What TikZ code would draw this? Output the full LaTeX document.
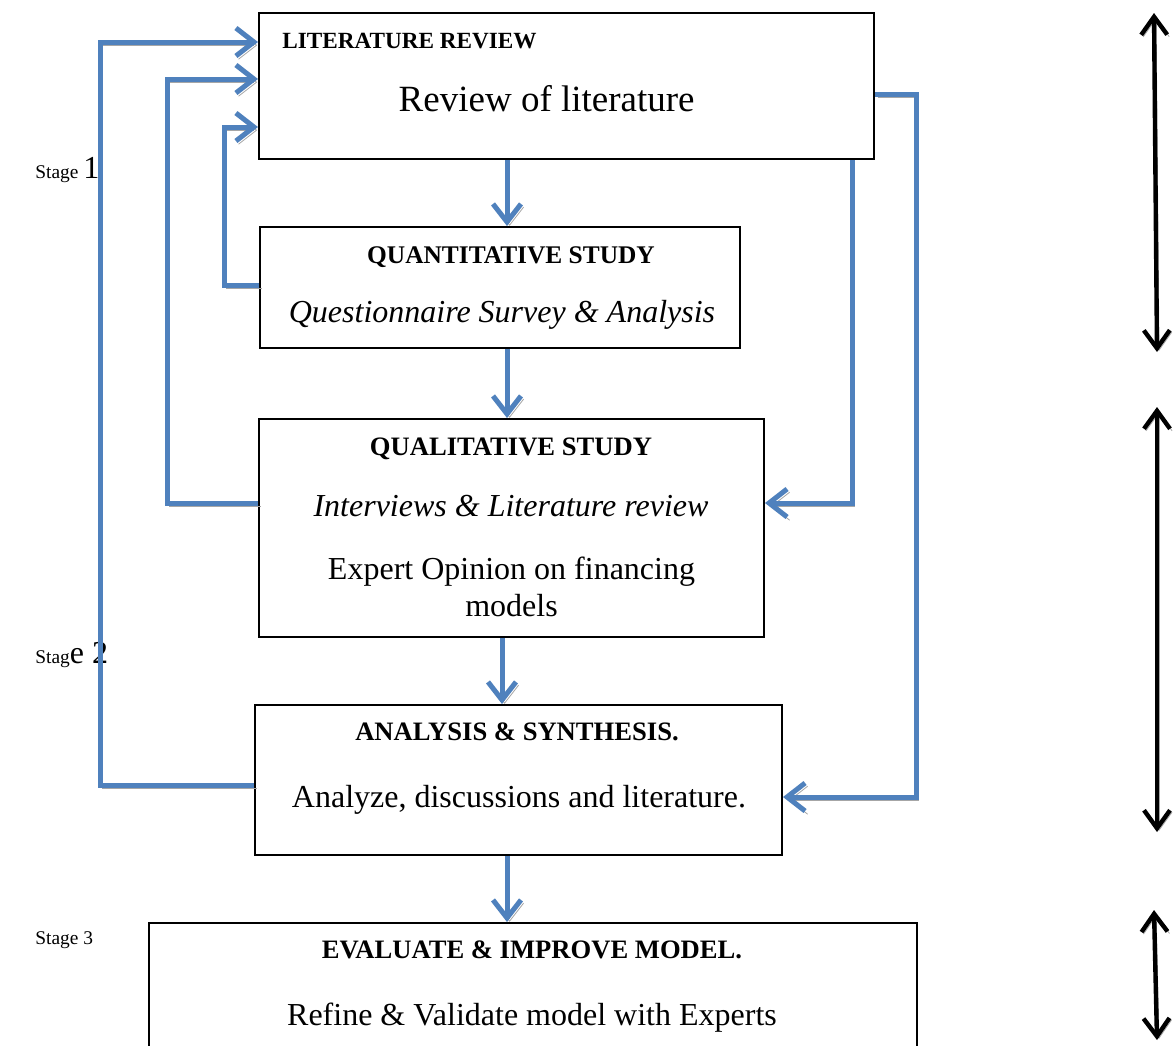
\documentclass[tikz,border=0pt]{standalone}
\usepackage{fontspec}
\setmainfont{Liberation Serif}
\usetikzlibrary{arrows.meta,calc}
\definecolor{flowblue}{HTML}{4F81BD}
\definecolor{shade}{HTML}{A6A6A6}
\tikzset{
  boxnode/.style={draw=black, line width=1pt, inner sep=0pt},
  txt/.style={inner sep=0pt, anchor=base, text=black},
  ttl/.style={txt, font=\fontsize{13.3pt}{16pt}\selectfont\bfseries},
  body/.style={txt, font=\fontsize{16pt}{19pt}\selectfont},
  bodyit/.style={txt, font=\fontsize{16pt}{19pt}\selectfont\itshape},
  flow/.style={draw=flowblue, line width=2.5pt,
    -{Straight Barb[length=9pt,width=14pt]},
    preaction={draw=shade, transform canvas={shift={(1.3pt,-1.6pt)}}}},
  span/.style={draw=black, line width=2.2pt,
    {Straight Barb[length=9pt,width=13pt]}-{Straight Barb[length=9pt,width=13pt]},
    preaction={draw=shade, transform canvas={shift={(1pt,-1pt)}}}},
}
\begin{document}
\begin{tikzpicture}[x=0.5pt, y=-0.5pt]
\clip (0,0) rectangle (1176,1045);
\fill[white] (0,0) rectangle (1176,1045);

% process boxes
\node[boxnode, minimum width=307.5pt, minimum height=73pt]  (b1) at (566.5,86)  {};
\node[boxnode, minimum width=240pt,   minimum height=60.5pt] (b2) at (500,287.5) {};
\node[boxnode, minimum width=252.5pt, minimum height=109pt] (b3) at (511.5,528) {};
\node[boxnode, minimum width=263.5pt, minimum height=75pt]  (b4) at (518.5,780) {};
\node[boxnode, minimum width=384pt,   minimum height=100pt] (b5) at (533,1023)  {};

% box texts
\node[ttl, anchor=base west, font=\fontsize{11.6pt}{14pt}\selectfont\bfseries] (t1) at (282,48) {LITERATURE REVIEW};
\node[body, anchor=base east, font=\fontsize{18.5pt}{22pt}\selectfont] (d1) at (695,111) {Review of literature};
\node[ttl, font=\fontsize{12.7pt}{15pt}\selectfont\bfseries] (t2) at (511,263) {QUANTITATIVE STUDY};
\node[bodyit] (d2) at (502,322) {Questionnaire Survey \& Analysis};
\node[ttl] (t3) at (511,455) {QUALITATIVE STUDY};
\node[bodyit] (d3) at (511,516) {Interviews \& Literature review};
\node[body] (e3) at (511.5,579) {Expert Opinion on financing};
\node[body] (m3) at (511.5,616) {models};
\node[ttl] (t4) at (517,740) {ANALYSIS \& SYNTHESIS.};
\node[body] (d4) at (519,807) {Analyze, discussions and literature.};
\node[ttl] (t5) at (532,958) {EVALUATE \& IMPROVE MODEL.};
\node[body] (d5) at (532,1025) {Refine \& Validate model with Experts};

% stage labels
\node[txt, anchor=base west] (s1) at (35,178)
  {{\fontsize{9.7pt}{12pt}\selectfont Stage }{\fontsize{16pt}{19pt}\selectfont 1}};
\node[txt, anchor=base west] (s2) at (35,663)
  {{\fontsize{9.7pt}{12pt}\selectfont Stag}{\fontsize{16pt}{19pt}\selectfont e 2}};
\node[txt, anchor=base west] (s3) at (35,944)
  {\fontsize{9.7pt}{12pt}\selectfont Stage 3};

% routing points
\coordinate (colA) at (507,0);
\coordinate (colB) at (502,0);
\coordinate (fbA) at (100,42);
\coordinate (fbB) at (167,79);
\coordinate (fbC) at (224,127);
\coordinate (fbD) at (916,94);
\coordinate (fbE) at (852,503);

% main downward flow
\draw[flow] (colA |- b1.south) -- (colA |- b2.north);
\draw[flow] (colA |- b2.south) -- (colA |- b3.north);
\draw[flow] (colB |- b3.south) -- (colB |- b4.north);
\draw[flow] (colA |- b4.south) -- (colA |- b5.north);

% feedback loops on the left
\draw[flow] ($(b4.west)+(0,5)$) -| (fbA) -- (fbA -| b1.west);
\draw[flow] ($(b3.west)+(0,-25)$) -| (fbB) -- (fbB -| b1.west);
\draw[flow] ($(b2.west)+(0,-2.5)$) -| (fbC) -- (fbC -| b1.west);

% feed-forward loops on the right
\draw[flow] ($(b1.east)+(0,8)$) -- (fbD) |- ($(b4.east)+(0,17)$);
\draw[flow] (fbE |- b1.south) -- (fbE) -- (fbE -| b3.east);

% stage spans
\coordinate (r1a) at (1154,13);
\coordinate (r1b) at (1157,352);
\coordinate (r2a) at (1157,407);
\coordinate (r2b) at (1157,832);
\coordinate (r3a) at (1154,910);
\coordinate (r3b) at (1157,1040);
\draw[span] (r1a) -- (r1b);
\draw[span] (r2a) -- (r2b);
\draw[span] (r3a) -- (r3b);
\end{tikzpicture}
\end{document}
